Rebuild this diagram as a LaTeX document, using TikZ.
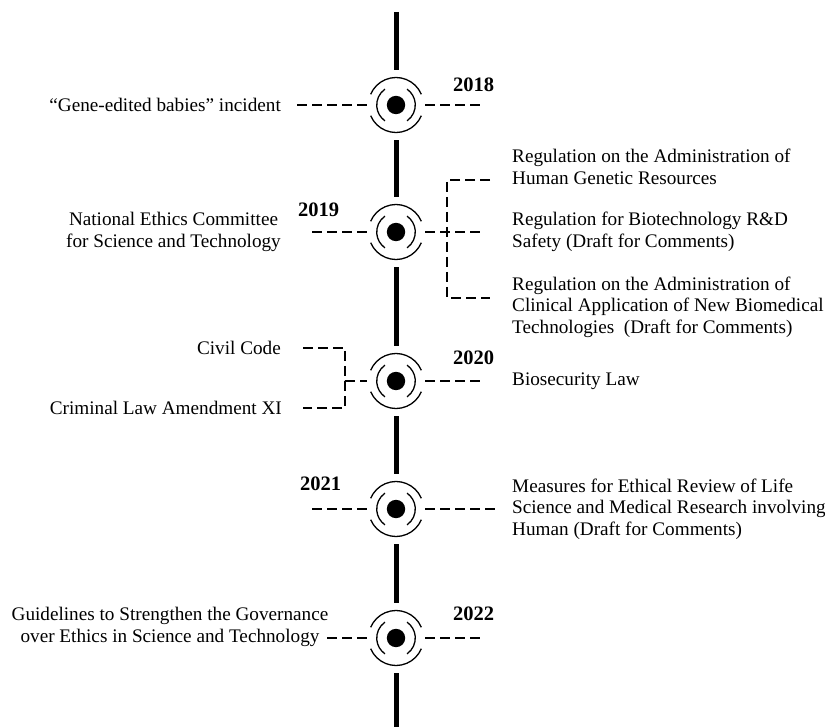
\documentclass[tikz,border=0pt]{standalone}
\usepackage{fontspec}
\setmainfont{Liberation Serif}
\usetikzlibrary{positioning}
\tikzset{
    spine/.style={line width=5pt},
    link/.style={line width=1.3pt, dash pattern=on 10pt off 5pt},
    ring/.style={line width=1.3pt},
    hub/.style={circle, minimum size=58pt, inner sep=0pt},
    evt/.style={font=\fontsize{19.2}{21.5}\selectfont, inner sep=0pt},
    yr/.style={font=\fontsize{20.5}{22}\selectfont\bfseries, inner sep=0pt},
}

\begin{document}
\begin{tikzpicture}[x=1pt,y=-1pt]
		\useasboundingbox (0,0) rectangle (825,727);
		% markers on the time line
		\foreach \n/\y in {18/105,19/232,20/381,21/509,22/638} {
				\node[hub] (m\n) at (396,\y) {};
				\fill (m\n) circle (9.2pt);
				\draw[ring] (m\n) ++(23:27.5pt) arc (23:157:27.5pt);
				\draw[ring] (m\n) ++(203:27.5pt) arc (203:337:27.5pt);
				\draw[ring] (m\n) ++(125:19.3pt) arc (125:235:19.3pt);
				\draw[ring] (m\n) ++(-55:19.3pt) arc (-55:55:19.3pt);
			}
		\coordinate (top) at (396,12);
		\coordinate (bot) at (396,727);
		\draw[spine,shorten >=6pt] (top) -- (m18);
		\foreach \a/\b in {18/19,19/20,20/21,21/22}
			\draw[spine,shorten <=6pt,shorten >=6pt] (m\a) -- (m\b);
		\draw[spine,shorten <=6pt] (m22) -- (bot);

		% 2018
		\coordinate (l18) at (297,105);
		\coordinate (r18) at (480,105);
		\draw[link] (l18) -- (m18);
		\draw[link] (m18) -- (r18);
		\node[evt,left=16pt of l18] (t18) {“Gene-edited babies” incident};
		\node[yr,anchor=base west] (y18) at (453,92) {2018};

		% 2019
		\coordinate (l19) at (312,232);
		\coordinate (r19) at (480,232);
		\coordinate (b19a) at (490,180);
		\coordinate (b19c) at (490,298);
		\draw[link] (l19) -- (m19);
		\draw[link] (m19) -- (r19);
		\draw[link] (b19a) -- ++(-43,0) |- (b19c);
		\node[evt,align=center,left=31pt of l19] (t19) {National Ethics Committee\\for Science and Technology};
		\node[yr,anchor=base west] (y19) at (298,217) {2019};
		\node[evt,align=left,anchor=west] (r19a) at (512,167) {Regulation on the Administration of\\Human Genetic Resources};
		\node[evt,align=left,right=32pt of r19] (r19b) {Regulation for Biotechnology R\&D\\Safety (Draft for Comments)};
		\node[evt,align=left,anchor=west] (r19c) at (512,307) {Regulation on the Administration of\\Clinical Application of New Biomedical\\Technologies\ \ (Draft for Comments)};

		% 2020
		\coordinate (c20) at (303,348);
		\coordinate (j20) at (345,381);
		\coordinate (k20) at (303,408);
		\coordinate (r20) at (480,381);
		\draw[link] (j20) -- (m20);
		\draw[link] (c20) -| (j20) |- (k20);
		\draw[link] (m20) -- (r20);
		\node[evt,left=22pt of c20] (t20a) {Civil Code};
		\node[evt,left=21pt of k20] (t20b) {Criminal Law Amendment XI};
		\node[yr,anchor=base west] (y20) at (453,365) {2020};
		\node[evt,right=32pt of r20] (r20a) {Biosecurity Law};

		% 2021
		\coordinate (l21) at (312,509);
		\coordinate (r21) at (495,509);
		\draw[link] (l21) -- (m21);
		\draw[link] (m21) -- (r21);
		\node[yr,anchor=base west] (y21) at (300,490) {2021};
		\node[evt,align=left,right=17pt of r21] (r21a) {Measures for Ethical Review of Life\\Science and Medical Research involving\\Human (Draft for Comments)};

		% 2022
		\coordinate (l22) at (327,638);
		\coordinate (r22) at (480,638);
		\draw[link] (l22) -- (m22);
		\draw[link] (m22) -- (r22);
		\node[evt,align=center] (t22) at (170,627) {Guidelines to Strengthen the Governance\\over Ethics in Science and Technology};
		\node[yr,anchor=base west] (y22) at (453,620) {2022};
	\end{tikzpicture}
\end{document}
